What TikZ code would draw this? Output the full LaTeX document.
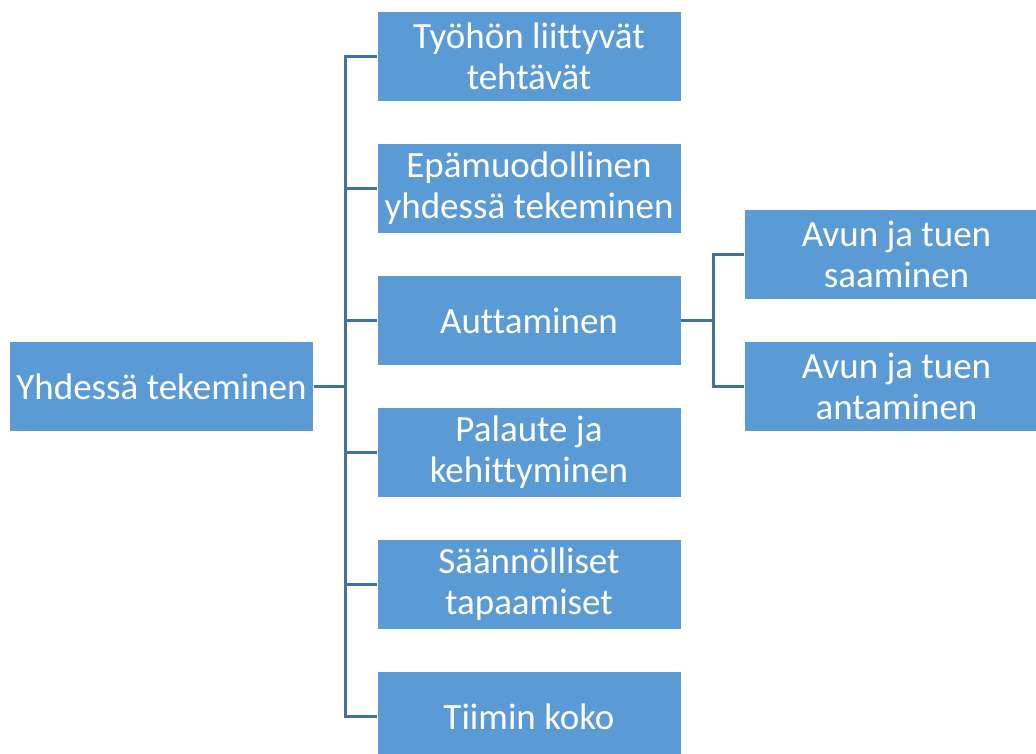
\documentclass[tikz,border=0pt]{standalone}
\usepackage{fontspec}
\setmainfont{Carlito}[Ligatures=NoCommon]
\definecolor{boxblue}{HTML}{5B9BD5}
\definecolor{linkblue}{HTML}{41719C}
\begin{document}
\begin{tikzpicture}[x=1pt,y=1pt,grow'=right,level distance=367.5pt,sibling distance=132pt,
    edge from parent path={(\tikzparentnode.east) -- +(32pt,0) |- (\tikzchildnode.west)}]
  \tikzstyle{every node}=[rectangle,fill=boxblue,draw=white,line width=0.4pt,
    minimum width=304pt,minimum height=90pt,inner sep=0pt,align=center,
    text=white,font=\fontsize{37}{41}\selectfont]
  \tikzstyle{edge from parent}=[draw=linkblue,line width=2.8pt]
  \clip (0,0) rectangle (1036,-753);
  \node (root) at (161.5,-386.5) {Yhdessä tekeminen}
    child {node (tyo) {Työhön liittyvät\\tehtävät}}
    child {node (epa) {Epämuodollinen\\yhdessä tekeminen}}
    child {node (aut) {Auttaminen}
            child {node (saa) {Avun ja tuen\\saaminen}}
            child {node (ant) {Avun ja tuen\\antaminen}}
          }
    child {node (pal) {Palaute ja\\kehittyminen}}
    child {node (saan) {Säännölliset\\tapaamiset}}
    child {node (koko) {Tiimin koko}};
\end{tikzpicture}
\end{document}
